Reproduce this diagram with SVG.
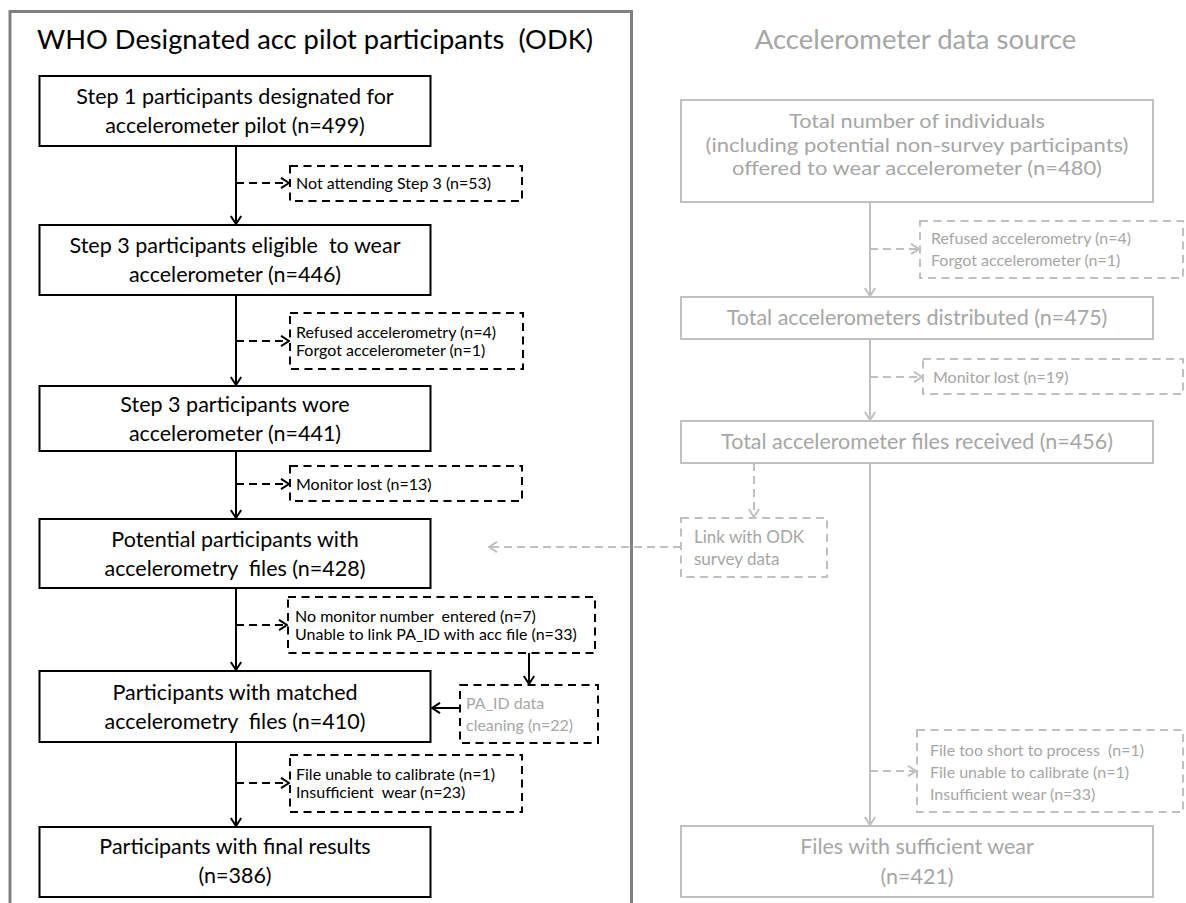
<svg xmlns="http://www.w3.org/2000/svg" width="1186" height="903" viewBox="0 0 1186 903">
  <style>
    text { font-family: Lato, "Liberation Sans", Arial, sans-serif; }
    .frame { fill: none; stroke: #808080; stroke-width: 3; }
    .box { fill: #fff; stroke: #000; stroke-width: 2; }
    .dbox { fill: none; stroke: #000; stroke-width: 2; stroke-dasharray: 8 5.5; }
    .gbox { fill: #fff; stroke: #c0c0c0; stroke-width: 2; }
    .gdbox { fill: none; stroke: #c0c0c0; stroke-width: 2; stroke-dasharray: 8 5.5; }
    .hd { font-size: 27.5px; }
    .t { font-size: 21.5px; fill: #000; text-anchor: middle; }
    .s { font-size: 16px; fill: #000; }
    .gt { font-size: 21.5px; fill: #a6a6a6; text-anchor: middle; }
    .gt3 { font-size: 19.5px; fill: #a6a6a6; text-anchor: middle; }
    .gs { font-size: 16px; fill: #a6a6a6; }
    .ln { fill: none; stroke: #000; stroke-width: 2; }
    .dl { fill: none; stroke: #000; stroke-width: 2; stroke-dasharray: 8 5; }
    .gln { fill: none; stroke: #c0c0c0; stroke-width: 2; }
    .gdl { fill: none; stroke: #c0c0c0; stroke-width: 2; stroke-dasharray: 8 5; }
  </style>
  <defs>
    <marker id="ah" viewBox="0 0 10 12" refX="9" refY="6" markerWidth="10" markerHeight="12" markerUnits="userSpaceOnUse" orient="auto">
      <path d="M1,0.8 L9,6 L1,11.2" fill="none" stroke="#000" stroke-width="2"/>
    </marker>
    <marker id="gah" viewBox="0 0 10 12" refX="9" refY="6" markerWidth="10" markerHeight="12" markerUnits="userSpaceOnUse" orient="auto">
      <path d="M1,0.8 L9,6 L1,11.2" fill="none" stroke="#c0c0c0" stroke-width="2"/>
    </marker>
  </defs>

  <rect width="1186" height="903" fill="#fff"/>

  <!-- left panel frame, open at the bottom -->
  <path class="frame" d="M10,906 V11.5 H631.5 V906"/>

  <!-- panel headings -->
  <text id="title-odk" class="hd" x="37" y="49" fill="#000" textLength="556" lengthAdjust="spacingAndGlyphs">WHO Designated acc pilot participants&#160; (ODK)</text>
  <text id="title-acc" class="hd" x="915.5" y="49" fill="#a6a6a6" text-anchor="middle">Accelerometer data source</text>

  <!-- connectors -->
  <g id="connectors">
    <line class="ln" x1="236" y1="146" x2="236" y2="224" marker-end="url(#ah)"/>
    <line class="dl" x1="236" y1="183" x2="289" y2="183" marker-end="url(#ah)"/>
    <line class="ln" x1="236" y1="295" x2="236" y2="385" marker-end="url(#ah)"/>
    <line class="dl" x1="236" y1="341" x2="289" y2="341" marker-end="url(#ah)"/>
    <line class="ln" x1="236" y1="451" x2="236" y2="518" marker-end="url(#ah)"/>
    <line class="dl" x1="236" y1="484" x2="289" y2="484" marker-end="url(#ah)"/>
    <line class="ln" x1="236" y1="588" x2="236" y2="670" marker-end="url(#ah)"/>
    <line class="dl" x1="236" y1="625" x2="287" y2="625" marker-end="url(#ah)"/>
    <line class="ln" x1="529" y1="653" x2="529" y2="684" marker-end="url(#ah)"/>
    <line class="ln" x1="460" y1="708" x2="432" y2="708" marker-end="url(#ah)"/>
    <line class="ln" x1="236" y1="742" x2="236" y2="826" marker-end="url(#ah)"/>
    <line class="dl" x1="236" y1="783" x2="289" y2="783" marker-end="url(#ah)"/>

    <line class="gln" x1="870" y1="202" x2="870" y2="296" marker-end="url(#gah)"/>
    <line class="gdl" x1="870" y1="249" x2="919" y2="249" marker-end="url(#gah)"/>
    <line class="gln" x1="870" y1="339" x2="870" y2="420" marker-end="url(#gah)"/>
    <line class="gdl" x1="870" y1="377" x2="922" y2="377" marker-end="url(#gah)"/>
    <line class="gln" x1="870" y1="463" x2="870" y2="825" marker-end="url(#gah)"/>
    <line class="gdl" x1="870" y1="771" x2="916" y2="771" marker-end="url(#gah)"/>
    <line class="gdl" x1="754" y1="463" x2="754" y2="517" marker-end="url(#gah)"/>
    <line class="gdl" x1="681" y1="547" x2="489" y2="547" marker-end="url(#gah)"/>
  </g>

  <!-- ODK side -->
  <g id="step1">
    <rect class="box" x="39.5" y="76" width="391" height="70"/>
    <text class="t" x="235" y="104">Step 1 participants designated for</text>
    <text class="t" x="235" y="133">accelerometer pilot (n=499)</text>
  </g>
  <g id="not-attending">
    <rect class="dbox" x="290" y="166" width="232" height="35"/>
    <text class="s" x="296" y="189">Not attending Step 3 (n=53)</text>
  </g>
  <g id="step3-eligible">
    <rect class="box" x="39.5" y="225" width="391" height="70"/>
    <text class="t" x="235" y="253">Step 3 participants eligible&#160; to wear</text>
    <text class="t" x="235" y="282">accelerometer (n=446)</text>
  </g>
  <g id="refused-odk">
    <rect class="dbox" x="290" y="313" width="233" height="56"/>
    <text class="s" x="296" y="337.5">Refused accelerometry (n=4)</text>
    <text class="s" x="296" y="355.5">Forgot accelerometer (n=1)</text>
  </g>
  <g id="step3-wore">
    <rect class="box" x="39.5" y="386" width="391" height="65"/>
    <text class="t" x="235" y="412">Step 3 participants wore</text>
    <text class="t" x="235" y="441">accelerometer (n=441)</text>
  </g>
  <g id="lost-odk">
    <rect class="dbox" x="290" y="466" width="232" height="35"/>
    <text class="s" x="296" y="489.5">Monitor lost (n=13)</text>
  </g>
  <g id="potential">
    <rect class="box" x="39.5" y="519" width="391" height="69"/>
    <text class="t" x="235" y="547">Potential participants with</text>
    <text class="t" x="235" y="576">accelerometry&#160; files (n=428)</text>
  </g>
  <g id="unlinked">
    <rect class="dbox" x="288" y="597" width="307" height="56"/>
    <text class="s" x="295" y="621.5">No monitor number&#160; entered (n=7)</text>
    <text class="s" x="295" y="639.5">Unable to link PA_ID with acc file (n=33)</text>
  </g>
  <g id="pa-id-cleaning">
    <rect class="dbox" x="460" y="685" width="138" height="58"/>
    <text class="gs" x="466" y="709">PA_ID data</text>
    <text class="gs" x="466" y="731">cleaning (n=22)</text>
  </g>
  <g id="matched">
    <rect class="box" x="39.5" y="671" width="391" height="71"/>
    <text class="t" x="235" y="700">Participants with matched</text>
    <text class="t" x="235" y="729">accelerometry&#160; files (n=410)</text>
  </g>
  <g id="excluded-odk">
    <rect class="dbox" x="290" y="755" width="232" height="57"/>
    <text class="s" x="296" y="780">File unable to calibrate (n=1)</text>
    <text class="s" x="296" y="798">Insufficient&#160; wear (n=23)</text>
  </g>
  <g id="final">
    <rect class="box" x="39.5" y="827" width="391" height="70"/>
    <text class="t" x="235" y="854">Participants with final results</text>
    <text class="t" x="235" y="883">(n=386)</text>
  </g>

  <!-- accelerometer data side -->
  <g id="offered">
    <rect class="gbox" x="681" y="100" width="472" height="102"/>
    <text class="gt3" x="917" y="128" textLength="256" lengthAdjust="spacingAndGlyphs">Total number of individuals</text>
    <text class="gt3" x="917" y="151.5" textLength="423" lengthAdjust="spacingAndGlyphs">(including potential non-survey participants)</text>
    <text class="gt3" x="917" y="175" textLength="370" lengthAdjust="spacingAndGlyphs">offered to wear accelerometer (n=480)</text>
  </g>
  <g id="refused-acc">
    <rect class="gdbox" x="920" y="221" width="263" height="57"/>
    <text class="gs" x="931" y="243.5">Refused accelerometry (n=4)</text>
    <text class="gs" x="931" y="265.5">Forgot accelerometer (n=1)</text>
  </g>
  <g id="distributed">
    <rect class="gbox" x="681" y="297" width="472" height="42"/>
    <text class="gt" x="917" y="325">Total accelerometers distributed (n=475)</text>
  </g>
  <g id="lost-acc">
    <rect class="gdbox" x="923" y="359" width="260" height="35"/>
    <text class="gs" x="933" y="382.5">Monitor lost (n=19)</text>
  </g>
  <g id="received">
    <rect class="gbox" x="681" y="421" width="472" height="42"/>
    <text class="gt" x="917" y="449">Total accelerometer files received (n=456)</text>
  </g>
  <g id="link-odk">
    <rect class="gdbox" x="681" y="518" width="146" height="59"/>
    <text class="gs" x="694" y="543" style="font-size:17px">Link with ODK</text>
    <text class="gs" x="694" y="565" style="font-size:17px">survey data</text>
  </g>
  <g id="excluded-acc">
    <rect class="gdbox" x="917" y="730" width="266" height="82"/>
    <text class="gs" x="930" y="755.5">File too short to process&#160; (n=1)</text>
    <text class="gs" x="930" y="777.5">File unable to calibrate (n=1)</text>
    <text class="gs" x="930" y="799.5">Insufficient wear (n=33)</text>
  </g>
  <g id="sufficient">
    <rect class="gbox" x="681" y="826" width="472" height="71"/>
    <text class="gt" x="917" y="854">Files with sufficient wear</text>
    <text class="gt" x="917" y="884">(n=421)</text>
  </g>
</svg>
